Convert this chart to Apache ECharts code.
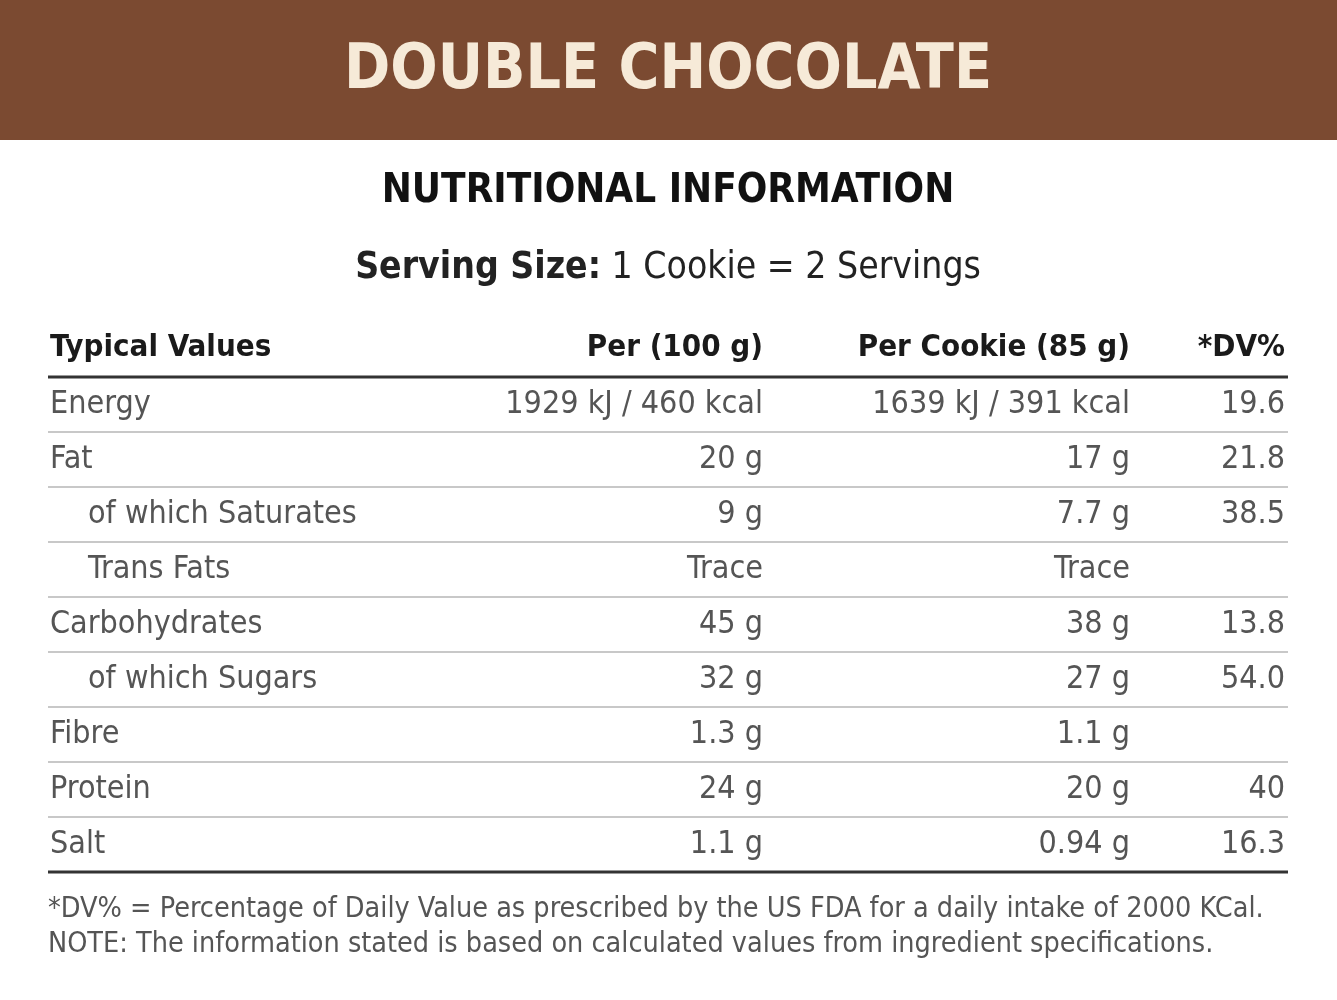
<!DOCTYPE html>
<html><head><meta charset="utf-8">
<script src="https://cdn.jsdelivr.net/npm/echarts@6/dist/echarts.min.js"></script>
<style>html,body{margin:0;padding:0;background:#fff}#main{width:1337px;height:1000px}</style>
</head><body><div id="main"></div>
<script>
// table data
var title = 'DOUBLE CHOCOLATE';
var subtitle = 'NUTRITIONAL INFORMATION';
var headers = ['Typical Values', 'Per (100 g)', 'Per Cookie (85 g)', '*DV%'];
var nutrients = ['Energy', 'Fat', 'of which Saturates', 'Trans Fats', 'Carbohydrates', 'of which Sugars', 'Fibre', 'Protein', 'Salt'];
var indented = [false, false, true, true, false, true, false, false, false];
var per100 = ['1929 kJ / 460 kcal', '20 g', '9 g', 'Trace', '45 g', '32 g', '1.3 g', '24 g', '1.1 g'];
var perCookie = ['1639 kJ / 391 kcal', '17 g', '7.7 g', 'Trace', '38 g', '27 g', '1.1 g', '20 g', '0.94 g'];
var dv = ['19.6', '21.8', '38.5', '', '13.8', '54.0', '', '40', '16.3'];
var notes = ['*DV% = Percentage of Daily Value as prescribed by the US FDA for a daily intake of 2000 KCal.',
  'NOTE: The information stated is based on calculated values from ingredient specifications.'];

var font = '"DejaVu Sans Condensed", "DejaVu Sans", sans-serif';
var ink = '#2a2a2a';
var grey = '#555';
var els = [];

function txt(x, y, s, size, opt) {
  opt = opt || {};
  els.push({ type: 'text', x: x, y: y, style: {
    text: s, fill: opt.fill || ink, fontFamily: opt.family || font,
    fontSize: size, fontWeight: opt.bold ? 'bold' : 'normal',
    align: opt.align || 'left', verticalAlign: 'middle' } });
}
function hline(y, w, c) {
  els.push({ type: 'line', shape: { x1: 48, y1: y, x2: 1288, y2: y }, style: { stroke: c, lineWidth: w } });
}

// header band
els.push({ type: 'rect', shape: { x: 0, y: 0, width: 1337, height: 140 }, style: { fill: '#7b4a31' } });
txt(668, 72, title, 62, { bold: true, align: 'center', fill: '#f6ead8' });
txt(668, 192, subtitle, 40, { bold: true, align: 'center', fill: '#111' });
els.push({ type: 'text', x: 668, y: 268, style: {
  text: '{b|Serving Size:} 1 Cookie = 2 Servings', align: 'center', verticalAlign: 'middle',
  fontFamily: font, fontSize: 37, fill: '#222',
  rich: { b: { fontWeight: 'bold', fontFamily: font, fontSize: 37, fill: '#222' } } } });

var colX = [50, 763, 1130, 1285];
var colAlign = ['left', 'right', 'right', 'right'];
headers.forEach(function (h, i) { txt(colX[i], 348, h, 31, { bold: true, align: colAlign[i], fill: '#1a1a1a' }); });
hline(377, 3, '#333');

var top0 = 405, step = 55;
nutrients.forEach(function (n, i) {
  var y = top0 + i * step;
  txt(indented[i] ? 88 : 50, y, n, 32, { fill: grey });
  txt(colX[1], y, per100[i], 32, { align: 'right', fill: grey });
  txt(colX[2], y, perCookie[i], 32, { align: 'right', fill: grey });
  if (dv[i]) txt(colX[3], y, dv[i], 32, { align: 'right', fill: grey });
  if (i < nutrients.length - 1) hline(y + 27, 2, '#c8c8c8');
});
hline(top0 + (nutrients.length - 1) * step + 27, 3, '#333');
notes.forEach(function (s, i) { txt(48, 910 + i * 35, s, 28.5, { fill: '#555' }); });

var chart = echarts.init(document.getElementById('main'));
chart.setOption({ backgroundColor: '#fff', animation: false, graphic: { elements: els } });
</script></body></html>
